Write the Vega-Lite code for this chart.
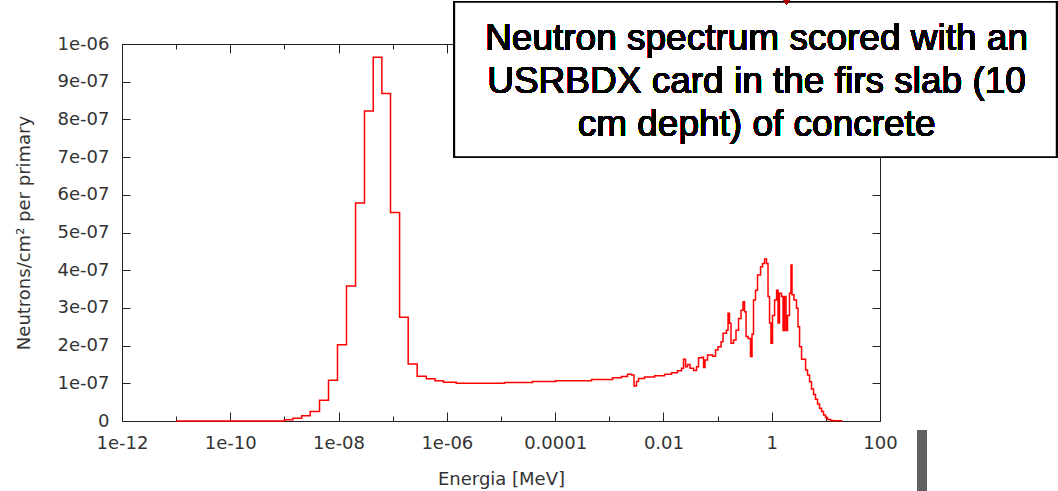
{
  "$schema": "https://vega.github.io/schema/vega-lite/v6.json",
  "width": 758,
  "height": 377,
  "autosize": "none",
  "padding": {"left": 122, "top": 44, "right": 178, "bottom": 70},
  "background": "white",
  "config": {
    "view": {"stroke": "#222", "strokeWidth": 1},
    "axis": {
      "labelFont": "DejaVu Sans", "titleFont": "DejaVu Sans",
      "labelFontSize": 18, "titleFontSize": 18,
      "labelColor": "#333", "titleColor": "#333", "titleFontWeight": "normal",
      "tickColor": "#222", "tickWidth": 1, "domain": false, "grid": false,
      "tickSize": -8, "labelPadding": 21, "labelFlush": false, "labelOverlap": false, "labelBound": false
    }
  },
  "data": {"values": [
    {"E": 1e-11, "v": 0},
    {"E": 1e-9, "v": 3e-9},
    {"E": 1.43e-9, "v": 7e-9},
    {"E": 2.09e-9, "v": 1.4e-8},
    {"E": 2.99e-9, "v": 2.5e-8},
    {"E": 4.45e-9, "v": 5.5e-8},
    {"E": 6.52e-9, "v": 1.08e-7},
    {"E": 9.55e-9, "v": 2.02e-7},
    {"E": 1.40e-8, "v": 3.58e-7},
    {"E": 2.06e-8, "v": 5.78e-7},
    {"E": 3.01e-8, "v": 8.22e-7},
    {"E": 4.37e-8, "v": 9.65e-7},
    {"E": 6.30e-8, "v": 8.69e-7},
    {"E": 9.10e-8, "v": 5.53e-7},
    {"E": 1.34e-7, "v": 2.75e-7},
    {"E": 1.93e-7, "v": 1.51e-7},
    {"E": 2.83e-7, "v": 1.19e-7},
    {"E": 4.16e-7, "v": 1.12e-7},
    {"E": 6.04e-7, "v": 1.07e-7},
    {"E": 8.67e-7, "v": 1.03e-7},
    {"E": 1.49e-6, "v": 1.00e-7},
    {"E": 1.16e-5, "v": 1.02e-7},
    {"E": 3.82e-5, "v": 1.05e-7},
    {"E": 1.02e-4, "v": 1.07e-7},
    {"E": 4.70e-4, "v": 1.10e-7},
    {"E": 1.15e-3, "v": 1.15e-7},
    {"E": 1.68e-3, "v": 1.18e-7},
    {"E": 2.17e-3, "v": 1.24e-7},
    {"E": 2.58e-3, "v": 1.22e-7},
    {"E": 2.86e-3, "v": 0.93e-7},
    {"E": 3.18e-3, "v": 1.05e-7},
    {"E": 3.47e-3, "v": 1.13e-7},
    {"E": 4.48e-3, "v": 1.17e-7},
    {"E": 6.86e-3, "v": 1.20e-7},
    {"E": 1.05e-2, "v": 1.24e-7},
    {"E": 1.41e-2, "v": 1.28e-7},
    {"E": 1.82e-2, "v": 1.33e-7},
    {"E": 2.16e-2, "v": 1.40e-7},
    {"E": 2.35e-2, "v": 1.64e-7},
    {"E": 2.56e-2, "v": 1.44e-7},
    {"E": 2.79e-2, "v": 1.50e-7},
    {"E": 3.10e-2, "v": 1.40e-7},
    {"E": 3.60e-2, "v": 1.34e-7},
    {"E": 4.08e-2, "v": 1.44e-7},
    {"E": 4.45e-2, "v": 1.68e-7},
    {"E": 5.16e-2, "v": 1.69e-7},
    {"E": 5.51e-2, "v": 1.42e-7},
    {"E": 5.86e-2, "v": 1.62e-7},
    {"E": 6.53e-2, "v": 1.75e-7},
    {"E": 8.07e-2, "v": 1.72e-7},
    {"E": 9.16e-2, "v": 1.88e-7},
    {"E": 0.102, "v": 1.97e-7},
    {"E": 0.116, "v": 2.10e-7},
    {"E": 0.126, "v": 2.33e-7},
    {"E": 0.146, "v": 2.41e-7},
    {"E": 0.156, "v": 2.86e-7},
    {"E": 0.166, "v": 2.59e-7},
    {"E": 0.177, "v": 2.06e-7},
    {"E": 0.197, "v": 2.15e-7},
    {"E": 0.219, "v": 2.41e-7},
    {"E": 0.244, "v": 2.72e-7},
    {"E": 0.271, "v": 2.94e-7},
    {"E": 0.295, "v": 3.16e-7},
    {"E": 0.315, "v": 2.90e-7},
    {"E": 0.336, "v": 2.24e-7},
    {"E": 0.366, "v": 2.19e-7},
    {"E": 0.406, "v": 1.71e-7},
    {"E": 0.433, "v": 2.30e-7},
    {"E": 0.461, "v": 3.21e-7},
    {"E": 0.502, "v": 3.47e-7},
    {"E": 0.547, "v": 3.87e-7},
    {"E": 0.622, "v": 4.09e-7},
    {"E": 0.678, "v": 4.18e-7},
    {"E": 0.738, "v": 4.30e-7},
    {"E": 0.802, "v": 4.18e-7},
    {"E": 0.855, "v": 3.30e-7},
    {"E": 0.912, "v": 2.60e-7},
    {"E": 0.970, "v": 2.06e-7},
    {"E": 1.035, "v": 2.80e-7},
    {"E": 1.13, "v": 3.21e-7},
    {"E": 1.23, "v": 3.47e-7},
    {"E": 1.31, "v": 2.60e-7},
    {"E": 1.39, "v": 3.39e-7},
    {"E": 1.52, "v": 3.30e-7},
    {"E": 1.62, "v": 2.40e-7},
    {"E": 1.72, "v": 3.30e-7},
    {"E": 1.84, "v": 2.40e-7},
    {"E": 1.96, "v": 2.80e-7},
    {"E": 2.13, "v": 3.39e-7},
    {"E": 2.27, "v": 4.14e-7},
    {"E": 2.37, "v": 3.35e-7},
    {"E": 2.58, "v": 3.21e-7},
    {"E": 2.87, "v": 2.99e-7},
    {"E": 3.06, "v": 2.50e-7},
    {"E": 3.27, "v": 1.97e-7},
    {"E": 3.56, "v": 1.64e-7},
    {"E": 4.22, "v": 1.35e-7},
    {"E": 4.59, "v": 1.22e-7},
    {"E": 5.00, "v": 1.04e-7},
    {"E": 5.43, "v": 0.85e-7},
    {"E": 5.92, "v": 0.70e-7},
    {"E": 6.44, "v": 0.58e-7},
    {"E": 7.02, "v": 0.45e-7},
    {"E": 7.64, "v": 0.34e-7},
    {"E": 8.32, "v": 0.25e-7},
    {"E": 9.06, "v": 0.16e-7},
    {"E": 9.86, "v": 0.09e-7},
    {"E": 10.7, "v": 0.04e-7},
    {"E": 12.2, "v": 0.015e-7},
    {"E": 13.9, "v": 0.005e-7},
    {"E": 19.5, "v": 0}
  ]},
  "resolve": {"axis": {"x": "independent", "y": "independent"}},
  "layer": [
    {
      "mark": {"type": "line", "interpolate": "step-after", "color": "#ff0000", "strokeWidth": 1.5},
      "encoding": {
        "x": {"field": "E", "type": "quantitative",
          "scale": {"type": "log", "domain": [1e-12, 100], "nice": false},
          "axis": {"orient": "bottom", "title": "Energia [MeV]", "titlePadding": 18, "tickSize": -9, "labelPadding": 22,
            "values": [1e-12,1e-10,1e-8,1e-6,1e-4,1e-2,1,100],
            "labelExpr": "['1e-12','','1e-10','','1e-08','','1e-06','','0.0001','','0.01','','1','','100'][round(log(datum.value)/LN10)+12]"}},
        "y": {"field": "v", "type": "quantitative",
          "scale": {"domain": [0, 1e-6], "nice": false, "zero": false},
          "axis": {"orient": "left", "title": "Neutrons/cm² per primary", "titlePadding": 24,
            "values": [0,1e-7,2e-7,3e-7,4e-7,5e-7,6e-7,7e-7,8e-7,9e-7,1e-6],
            "labelExpr": "datum.value == 0 ? '0' : datum.value > 9.5e-7 ? '1e-06' : format(datum.value*1e7, 'd') + 'e-07'"}}
      }
    },
    {
      "mark": {"type": "rect", "fill": "white", "stroke": "black", "strokeWidth": 1.5},
      "encoding": {
        "x": {"datum": 1.38e-6, "type": "quantitative",
          "axis": {"orient": "top", "labels": false, "title": null, "tickSize": -9,
            "values": [1e-12,1e-10,1e-8,1e-6,1e-4,1e-2,1,100]}},
        "x2": {"datum": 1.82e5},
        "y": {"datum": 1.1114e-6, "type": "quantitative",
          "axis": {"orient": "right", "labels": false, "title": null,
            "values": [0,1e-7,2e-7,3e-7,4e-7,5e-7,6e-7,7e-7,8e-7,9e-7,1e-6]}},
        "y2": {"datum": 7.003e-7}
      }
    },
    {
      "mark": {"type": "text", "font": "Liberation Sans", "fontSize": 37, "lineHeight": 43,
        "align": "center", "baseline": "middle", "fill": "#000000", "strokeWidth": 0},
      "encoding": {
        "x": {"datum": 0.525, "type": "quantitative", "axis": null},
        "y": {"datum": 1.0133e-6, "type": "quantitative", "axis": null},
        "text": {"value": ["Neutron spectrum scored with an", "USRBDX card in the firs slab (10", "cm depht) of concrete"]}
      }
    },
    {
      "mark": {"type": "rect", "color": "#606060"},
      "encoding": {
        "x": {"datum": 493, "type": "quantitative",
          "axis": {"orient": "bottom", "labels": false, "title": null, "tickSize": -5,
            "values": [1e-11,1e-9,1e-7,1e-5,1e-3,1e-1,10]}},
        "x2": {"datum": 724},
        "y": {"datum": -2.39e-8, "type": "quantitative", "axis": null},
        "y2": {"datum": -1.9e-7}
      }
    },
    {
      "mark": {"type": "point", "shape": "triangle-down", "filled": true, "color": "#b00000", "size": 70, "opacity": 1},
      "encoding": {
        "x": {"datum": 1.88, "type": "quantitative",
          "axis": {"orient": "top", "labels": false, "title": null, "tickSize": -5,
            "values": [1e-11,1e-9,1e-7,1e-5,1e-3,1e-1,10]}},
        "y": {"datum": 1.114e-6, "type": "quantitative", "axis": null}
      }
    }
  ]
}
